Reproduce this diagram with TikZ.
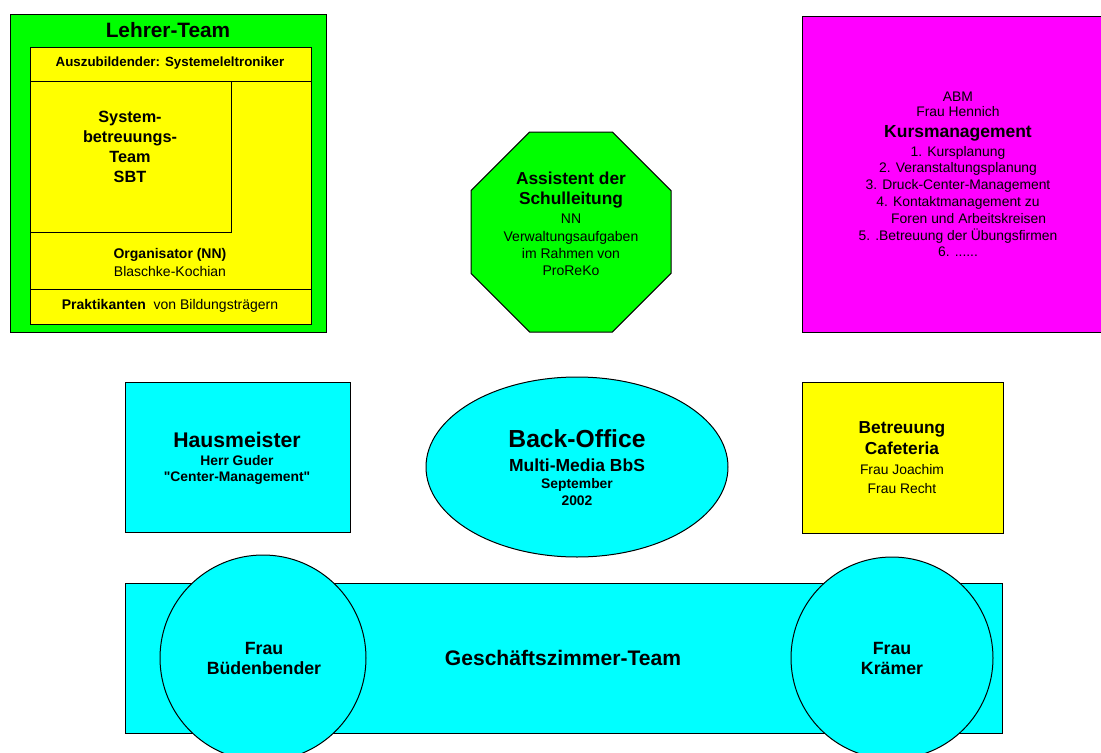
\documentclass[tikz,border=0pt]{standalone}
\usepackage{fontspec}
\setmainfont{Liberation Sans}
\definecolor{lgreen}{RGB}{0,255,0}
\definecolor{lyellow}{RGB}{255,255,0}
\definecolor{lmagenta}{RGB}{255,0,255}
\definecolor{lcyan}{RGB}{0,255,255}
\newcommand{\fsz}[2]{\fontsize{#1}{#2}\selectfont}
\newcommand{\dq}{\XeTeXglyph\XeTeXcharglyph"22\relax}

\begin{document}
\begin{tikzpicture}[x=0.75pt,y=0.75pt,yscale=-1,xscale=1,
        outline/.style={draw=black, line width=0.75},
        txt/.style={inner sep=0.75pt, align=center}]
        \clip (0,0) rectangle (1101,753);

        %Shape: Rectangle [Lehrer-Team]
        \draw [outline, fill=lgreen] (10,14) rectangle (326,332) ;
        %Shape: Rectangle
        \draw [outline, fill=lyellow] (30,47) rectangle (311,324) ;
        %Straight Lines
        \draw [outline] (30,81) -- (311,81) ;
        \draw [outline] (30,289) -- (311,289) ;
        %Shape: Rectangle [SBT]
        \draw [outline] (30,81) rectangle (231,232) ;

        %Shape: Octagon
        \draw [outline, fill=lgreen] (529.6,132) -- (612.4,132) -- (671,190.6) -- (671,273.4) -- (612.4,332) -- (529.6,332) -- (471,273.4) -- (471,190.6) -- cycle ;
        %Shape: Rectangle [Kursmanagement]
        \draw [outline, fill=lmagenta] (802,16) rectangle (1114,332) ;

        %Shape: Rectangle [Hausmeister]
        \draw [outline, fill=lcyan] (125,382) rectangle (350,532) ;
        %Shape: Ellipse [Back-Office]
        \draw [outline, fill=lcyan] (577,467) ellipse (151 and 90) ;
        %Shape: Rectangle [Cafeteria]
        \draw [outline, fill=lyellow] (802,382) rectangle (1003,533) ;

        %Shape: Rectangle [Geschaeftszimmer]
        \draw [outline, fill=lcyan] (125,583) rectangle (1002,733) ;
        %Shape: Circle
        \draw [outline, fill=lcyan] (263,658) circle (103) ;
        %Shape: Circle
        \draw [outline, fill=lcyan] (892,658) circle (101) ;

        % Text Node
        \draw (168,30) node (lehrer) [txt, font=\bfseries\fsz{15.6}{18}] {Lehrer-Team};
        % Text Node
        \draw (170,63) node (azubi) [txt, font=\bfseries\fsz{10}{12}] {Auszubildender: Systemeleltroniker};
        % Text Node
        \draw (130,147) node (sbt) [txt, font=\bfseries\fsz{12.2}{15}] {System-\\betreuungs-\\Team\\SBT};
        % Text Node
        \draw (170,255) node (orga) [txt, font=\bfseries\fsz{10.5}{12}] {Organisator (NN)};
        % Text Node
        \draw (170,271) node (blaschke) [txt, font=\fsz{10.5}{12}] {Blaschke-Kochian};
        % Text Node
        \draw (170,306) node (prakt) [txt, font=\fsz{10.5}{12}] {\textbf{Praktikanten}\ \ von Bildungsträgern};

        % Text Node
        \draw (571,190) node (assist) [txt, font=\bfseries\fsz{13}{15}] {Assistent der\\Schulleitung};
        % Text Node
        \draw (571,245) node (verwaltung) [txt, font=\fsz{10.5}{13}] {NN\\Verwaltungsaufgaben\\im Rahmen von\\ProReKo};

        % Text Node
        \draw (958,104.5) node (abm) [txt, font=\fsz{10.4}{11.5}] {ABM\\Frau Hennich};
        % Text Node
        \draw (958,133) node (kurs) [txt, font=\bfseries\fsz{13.1}{15}] {Kursmanagement};
        % Text Node
        \draw (958,201.5) node (kursliste) [txt, font=\fsz{10.4}{12.6}] {1. Kursplanung\\2. Veranstaltungsplanung\\3. Druck-Center-Management\\4. Kontaktmanagement zu\\\hspace*{16pt}Foren und Arbeitskreisen\\5. .Betreuung der Übungsfirmen\\6. ......};

        % Text Node
        \draw (237,440) node (haus) [txt, font=\bfseries\fsz{15.9}{18}] {Hausmeister};
        % Text Node
        \draw (237,469.5) node (guder) [txt, font=\bfseries\fsz{10.4}{12}] {Herr Guder\\\dq Center-Management\dq};

        % Text Node
        \draw (577,439) node (backoffice) [txt, font=\bfseries\fsz{18.5}{20}] {Back-Office};
        % Text Node
        \draw (577,465) node (multimedia) [txt, font=\bfseries\fsz{13.1}{15}] {Multi-Media BbS};
        % Text Node
        \draw (577,492.5) node (datum) [txt, font=\bfseries\fsz{10.4}{12.7}] {September\\2002};

        % Text Node
        \draw (902,438.5) node (cafeteria) [txt, font=\bfseries\fsz{13}{15.75}] {Betreuung\\Cafeteria};
        % Text Node
        \draw (902,479.5) node (joachim) [txt, font=\fsz{10.4}{14.25}] {Frau Joachim\\Frau Recht};

        % Text Node
        \draw (264,658) node (buedenbender) [txt, font=\bfseries\fsz{13.3}{15}] {Frau\\Büdenbender};
        % Text Node
        \draw (563,658) node (gzteam) [txt, font=\bfseries\fsz{15.8}{18}] {Geschäftszimmer-Team};
        % Text Node
        \draw (892,658) node (kraemer) [txt, font=\bfseries\fsz{13.3}{15}] {Frau\\Krämer};

\end{tikzpicture}
\end{document}
